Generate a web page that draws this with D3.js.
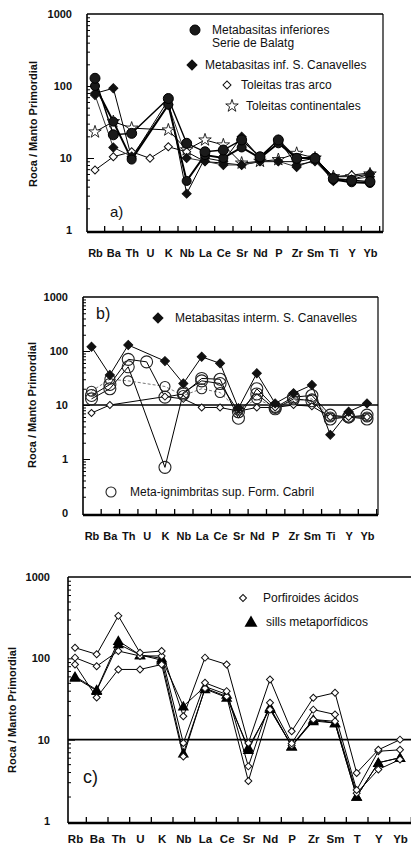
<!DOCTYPE html>
<html>
<head>
<meta charset="utf-8">
<script src="https://cdn.jsdelivr.net/npm/d3@7"></script>
<style>
  body { margin: 0; background: #fff; }
  text { font-family: 'Liberation Sans', Arial, sans-serif; fill: #111; }
</style>
</head>
<body>
<div id="chart"></div>
<script>
// element order on the x axis (same for the three diagrams)
const elements = ['Rb', 'Ba', 'Th', 'U', 'K', 'Nb', 'La', 'Ce', 'Sr', 'Nd', 'P', 'Zr', 'Sm', 'Ti', 'Y', 'Yb'];
const labelsC = ['Rb', 'Ba', 'Th', 'U', 'K', 'Nb', 'La', 'Ce', 'Sr', 'Nd', 'P', 'Zr', 'Sm', 'T', 'Y', 'Yb'];

// a) normalised values (null = not analysed)
const balatgA = [128, 21, 22, null, 67, 16, 12.2, 12.9, 17.8, 10.4, 17.8, 9.9, 9.9, 5.2, 4.9, 4.7];
const balatgB = [100, 32, 9.5, null, 55, 4.8, 11, 10, 14, 10, 16, 10, 10, 5, 4.6, 4.5];
const canavellesInfA = [79, 93, 10, null, 64, 3.2, 10, 9, 19.8, 10, 18, 8, 9, 5, 5, 6];
const canavellesInfB = [75, 14, 10.5, null, 55, 10, 9, 8, 8, 9, 9, 7.5, 9.5, 4.8, 5, 5.5];
const toleitasArco = [6.8, 10.4, 12.2, 9.9, 14.3, 12.2, 8.9, 8.5, 8, 8.9, 8.9, 8.9, 9.9, 5.5, 5.8, 6.2];
const toleitasCont = [23, 32, 26, null, 24.5, 13, 17.8, 15.2, 8.5, 9, 9.5, 11.6, 10, 5.5, 5.5, 6];

// b)
const canavellesInterm = [120, 36, 129, null, 65, 25, 78, 59, 8.7, 38.6, 10.7, 16.5, 23.5, 2.8, 7.5, 10.7];
const toleitasArcoB = [7.1, 10, null, null, 14.3, 13, 9, 9, 7.7, 9, 9, 10, 9.5, 6, 6, 6];
const cabril1 = [15, 24, 70, 63, 14, 16, 31, 30, 5.7, 20, 9, 14, 15, 6.5, 6, 5.5];
const cabril2 = [13, 20, 51, null, 0.7, 17, 28, 25, 7.5, 16, 8.5, 13, 12, 5.5, 6, 6.5];
const cabril3 = [18, 30, 28, null, 22, 15, 20, 17, 8, 13, 9, 12, 13, 6, 6, 6];

// c)
const porfiroides1 = [135, 112, 333, 117, 123, 19.4, 102, 84, 9.1, 55, 12.7, 32.7, 37.7, 3.9, 7.5, 10];
const porfiroides2 = [102, 80, 123, 107, 107, 9.1, 50, 39.5, 4.7, 28.4, 9, 23.4, 20.4, 2.4, 7.2, 7.5];
const porfiroides3 = [84, 33, 73, 73, 84, 6.2, 43, 34, 3.1, 23.4, 8.5, 17.7, 16.8, 2.2, 4.3, 5.7];
const sills1 = [60, 41, 164, 110, 100, 25.8, 45, 36, 7.5, 25, 8.3, 17.7, 16, 2.0, 5.2, 6];
const sills2 = [58, 40, 150, 110, 95, 6.8, 42, 33, 8, 24, 8.3, 17, 16, 2.0, 5.2, 6];

const svg = d3.select('#chart').append('svg').attr('width', 411).attr('height', 849);

// marker drawing
function marker(g, type, cx, cy, s) {
  if (type === 'circle') {
    g.append('circle').attr('cx', cx).attr('cy', cy).attr('r', s)
      .attr('fill', '#1a1a1a').attr('stroke', '#000');
  } else if (type === 'ocircle') {
    g.append('circle').attr('cx', cx).attr('cy', cy).attr('r', s)
      .attr('fill', 'none').attr('stroke', '#222').attr('stroke-width', 1.1);
  } else if (type === 'diamond' || type === 'odiamond') {
    g.append('path')
      .attr('d', d3.symbol(d3.symbolSquare, 2 * s * s)())
      .attr('transform', `translate(${cx},${cy}) rotate(45)`)
      .attr('fill', type === 'diamond' ? '#111' : '#fff')
      .attr('stroke', '#111').attr('stroke-width', 1);
  } else if (type === 'star') {
    g.append('path')
      .attr('d', d3.symbol(d3.symbolStar, s * s * 1.6)())
      .attr('transform', `translate(${cx},${cy})`)
      .attr('fill', '#fff').attr('stroke', '#111').attr('stroke-width', 0.9);
  } else if (type === 'triangle') {
    g.append('path')
      .attr('d', d3.symbol(d3.symbolTriangle, s * s * 1.3)())
      .attr('transform', `translate(${cx},${cy + 1})`)
      .attr('fill', '#000');
  }
}

function drawPanel(cfg) {
  const g = svg.append('g');
  const x = d3.scalePoint().domain(elements).range([cfg.x0, cfg.x1]);
  const xi = d3.scaleLinear().domain([0, elements.length - 1]).range([cfg.x0, cfg.x1]);
  const y = d3.scaleLog().domain([cfg.vMin, 1000]).range([cfg.yMin, cfg.yMax]);
  const yBottom = cfg.yMin + 2;

  const majors = [];
  const minors = [];
  for (let d = cfg.vMin; d < 1000; d *= 10) {
    majors.push(d);
    for (let k = 2; k < 10; k++) minors.push(d * k);
  }
  majors.push(1000);

  // frame
  g.append('line').attr('x1', cfg.left).attr('x2', cfg.right).attr('y1', cfg.yMax).attr('y2', cfg.yMax)
    .attr('stroke', '#000').attr('stroke-width', 1.6);
  if (cfg.rightBorder) {
    g.append('line').attr('x1', cfg.right).attr('x2', cfg.right).attr('y1', cfg.yMax).attr('y2', yBottom)
      .attr('stroke', '#000').attr('stroke-width', 1.2);
  }
  g.append('line').attr('x1', cfg.left).attr('x2', cfg.left).attr('y1', cfg.yMax).attr('y2', yBottom)
    .attr('stroke', '#000').attr('stroke-width', 1.6);
  g.append('line').attr('x1', cfg.left).attr('x2', cfg.right).attr('y1', yBottom).attr('y2', yBottom)
    .attr('stroke', '#000').attr('stroke-width', 2.4);

  // inward ticks on the left axis
  g.append('g').attr('transform', `translate(${cfg.left},0)`)
    .call(d3.axisRight(y).tickValues(majors.slice(1, -1)).tickSize(7).tickFormat(''))
    .call(a => a.select('.domain').remove());
  g.append('g').attr('transform', `translate(${cfg.left},0)`)
    .call(d3.axisRight(y).tickValues(minors).tickSize(3).tickFormat(''))
    .call(a => a.select('.domain').remove());
  g.append('g').attr('transform', `translate(${cfg.left},0)`)
    .call(d3.axisLeft(y).tickValues(majors).tickSize(0).tickPadding(cfg.labelPad)
      .tickFormat(d => cfg.yFormat(d)))
    .call(a => a.select('.domain').remove())
    .selectAll('text').attr('font-size', cfg.tickFont).attr('font-weight', 'bold')
    .attr('font-family', "'Liberation Sans', Arial, sans-serif");
  g.selectAll('.tick line').attr('stroke', '#000');

  // bottom ticks between elements, pointing up
  g.append('g').attr('transform', `translate(0,${yBottom})`)
    .call(d3.axisTop(xi).tickValues(d3.range(elements.length).map(i => i + 0.5)).tickSize(6).tickFormat(''))
    .call(a => a.select('.domain').remove())
    .selectAll('line').attr('stroke', '#000').attr('stroke-width', 1.3);

  g.append('g').attr('transform', `translate(0,${yBottom})`)
    .call(d3.axisBottom(x).tickSize(0).tickPadding(cfg.xPad).tickFormat((d, i) => cfg.xLabels[i]))
    .call(a => a.select('.domain').remove())
    .selectAll('text').attr('font-size', cfg.xFont).attr('font-weight', 'bold')
    .attr('font-family', "'Liberation Sans', Arial, sans-serif");

  // axis title
  g.append('text')
    .attr('transform', `translate(${cfg.titleX},${cfg.titleY}) rotate(-90)`)
    .attr('text-anchor', 'middle').attr('font-size', cfg.titleFont).attr('font-weight', 'bold')
    .text('Roca / Manto Primordial');

  if (cfg.refLine) {
    g.append('line').attr('x1', cfg.left).attr('x2', cfg.right).attr('y1', y(10)).attr('y2', y(10))
      .attr('stroke', '#000').attr('stroke-width', 1.6);
  }

  // series
  const line = d3.line().x(d => x(d.el)).y(d => y(d.v));
  cfg.series.forEach(s => {
    const pts = s.values.map((v, i) => ({ el: elements[i], v })).filter(d => d.v != null);
    g.append('path').datum(pts).attr('d', line).attr('fill', 'none')
      .attr('stroke', s.color || '#000').attr('stroke-width', s.width || 1)
      .attr('stroke-dasharray', s.dash || null);
  });
  cfg.series.forEach(s => {
    const pts = s.values.map((v, i) => ({ el: elements[i], v })).filter(d => d.v != null);
    const mg = g.append('g');
    pts.forEach(d => marker(mg, s.symbol, x(d.el), y(d.v), s.size));
  });

  // panel letter
  g.append('text').attr('x', cfg.letter[0]).attr('y', cfg.letter[1])
    .attr('font-size', cfg.letter[2]).text(cfg.letter[3]);

  // legend
  cfg.legend.forEach(l => {
    marker(g, l.symbol, l.mx, l.my, l.size);
    l.lines.forEach((t, k) => {
      g.append('text').attr('x', l.tx).attr('y', l.my + 4 + k * 12.5)
        .attr('font-size', 12).text(t);
    });
  });
}

// a)
drawPanel({
  left: 87, right: 383, x0: 95, x1: 370, vMin: 1, yMin: 230, yMax: 14, rightBorder: true,
  labelPad: 15, tickFont: 11, xPad: 17, xFont: 11, xLabels: elements,
  yFormat: d => d3.format('d')(d),
  titleX: 37, titleY: 124, titleFont: 11,
  series: [
    { values: toleitasCont, symbol: 'star', size: 5.5 },
    { values: toleitasArco, symbol: 'odiamond', size: 4 },
    { values: canavellesInfB, symbol: 'diamond', size: 4.5, color: '#333' },
    { values: canavellesInfA, symbol: 'diamond', size: 4.5 },
    { values: balatgB, symbol: 'circle', size: 4.5, width: 2 },
    { values: balatgA, symbol: 'circle', size: 5, width: 1.4 }
  ],
  letter: [110, 217, 15, 'a)'],
  legend: [
    { symbol: 'circle', size: 5, mx: 195, my: 30, tx: 212, lines: ['Metabasitas inferiores', 'Serie de Balatg'] },
    { symbol: 'diamond', size: 5, mx: 192, my: 65, tx: 205, lines: ['Metabasitas inf. S. Canavelles'] },
    { symbol: 'odiamond', size: 4, mx: 227, my: 85, tx: 241, lines: ['Toleitas tras arco'] },
    { symbol: 'star', size: 5.5, mx: 232, my: 106, tx: 246, lines: ['Toleitas continentales'] }
  ]
});

// b)
drawPanel({
  left: 83, right: 378, x0: 91.5, x1: 367, vMin: 0.1, yMin: 513, yMax: 297, rightBorder: true,
  labelPad: 15, tickFont: 11, xPad: 17, xFont: 11, xLabels: elements,
  yFormat: d => (d < 1 ? '0' : d3.format('d')(d)),
  titleX: 36, titleY: 405, titleFont: 11, refLine: true,
  series: [
    { values: cabril3, symbol: 'ocircle', size: 5, color: '#777', dash: '3,2' },
    { values: toleitasArcoB, symbol: 'odiamond', size: 3.5 },
    { values: cabril2, symbol: 'ocircle', size: 6 },
    { values: cabril1, symbol: 'ocircle', size: 6 },
    { values: canavellesInterm, symbol: 'diamond', size: 4.5 }
  ],
  letter: [96, 319, 16, 'b)'],
  legend: [
    { symbol: 'diamond', size: 5, mx: 158, my: 318, tx: 175, lines: ['Metabasitas interm. S. Canavelles'] },
    { symbol: 'ocircle', size: 5, mx: 111, my: 492, tx: 130, lines: ['Meta-ignimbritas sup. Form. Cabril'] }
  ]
});

// c)
drawPanel({
  left: 68, right: 411, x0: 75, x1: 400, vMin: 1, yMin: 821, yMax: 577, rightBorder: false,
  labelPad: 18, tickFont: 11, xPad: 12, xFont: 11.5, xLabels: labelsC,
  yFormat: d => d3.format('d')(d),
  titleX: 16, titleY: 710, titleFont: 11, refLine: true,
  series: [
    { values: sills2, symbol: 'triangle', size: 6.5 },
    { values: sills1, symbol: 'triangle', size: 6.5 },
    { values: porfiroides3, symbol: 'odiamond', size: 3.5 },
    { values: porfiroides2, symbol: 'odiamond', size: 3.5 },
    { values: porfiroides1, symbol: 'odiamond', size: 3.5 }
  ],
  letter: [83, 783, 18, 'c)'],
  legend: [
    { symbol: 'odiamond', size: 3.5, mx: 243, my: 598, tx: 263, lines: ['Porfiroides ácidos'] },
    { symbol: 'triangle', size: 7.5, mx: 251, my: 622, tx: 266, lines: ['sills metaporfídicos'] }
  ]
});
</script>
</body>
</html>
